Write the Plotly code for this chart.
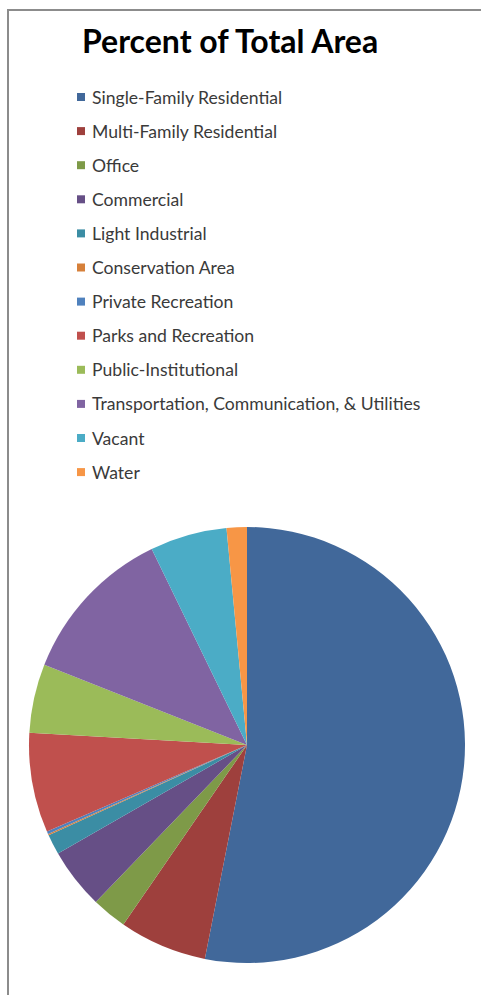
import plotly.graph_objects as go

# Land use categories and their share of total area (%)
categories = [
    "Single-Family Residential",
    "Multi-Family Residential",
    "Office",
    "Commercial",
    "Light Industrial",
    "Conservation Area",
    "Private Recreation",
    "Parks and Recreation",
    "Public-Institutional",
    "Transportation, Communication, & Utilities",
    "Vacant",
    "Water",
]
percent = [53.1, 6.5, 2.6, 4.5, 1.5, 0.1, 0.2, 7.4, 5.1, 11.8, 5.7, 1.5]
colors = [
    "#41689A", "#9E403D", "#7E9A48", "#664F86", "#3B8DA4", "#D6803A",
    "#4F81BD", "#C0504D", "#9BBB59", "#8064A2", "#4BACC6", "#F79646",
]

W, H = 481, 995

fig = go.Figure()
fig.add_trace(go.Pie(
    labels=categories,
    values=percent,
    marker=dict(colors=colors, line=dict(width=0)),
    sort=False,
    direction="clockwise",
    rotation=0,
    textinfo="none",
    hoverinfo="label+percent",
    showlegend=False,
    domain=dict(x=[29 / W, 465 / W], y=[(H - 963) / H, (H - 527) / H]),
))

# Legend drawn as colored squares with labels
shapes = []
annotations = []
top_y = 97
step = 34.1
for i, (name, col) in enumerate(zip(categories, colors)):
    yc = top_y + i * step
    shapes.append(dict(
        type="rect", xref="paper", yref="paper",
        x0=77 / W, x1=85 / W, y0=(H - yc - 4) / H, y1=(H - yc + 4) / H,
        fillcolor=col, line=dict(width=0),
    ))
    annotations.append(dict(
        x=90 / W, y=(H - yc) / H, xref="paper", yref="paper",
        xanchor="left", yanchor="middle", showarrow=False,
        text=name, font=dict(family="Lato", size=17.6, color="#3A3A3A"),
    ))

# Chart frame (left and top edges visible)
shapes.append(dict(
    type="rect", xref="paper", yref="paper",
    x0=8 / W, x1=1.02, y0=-0.02, y1=(H - 10) / H,
    line=dict(color="#8C8C8C", width=2), fillcolor="rgba(0,0,0,0)",
))

annotations.append(dict(
    x=230 / W, y=(H - 41) / H, xref="paper", yref="paper",
    xanchor="center", yanchor="middle", showarrow=False,
    text="<b>Percent of Total Area</b>",
    font=dict(family="Lato", size=32, color="#000000"),
))

fig.update_layout(
    width=W, height=H,
    margin=dict(l=0, r=0, t=0, b=0),
    paper_bgcolor="white",
    plot_bgcolor="white",
    shapes=shapes,
    annotations=annotations,
)

fig.write_html("out.html")
